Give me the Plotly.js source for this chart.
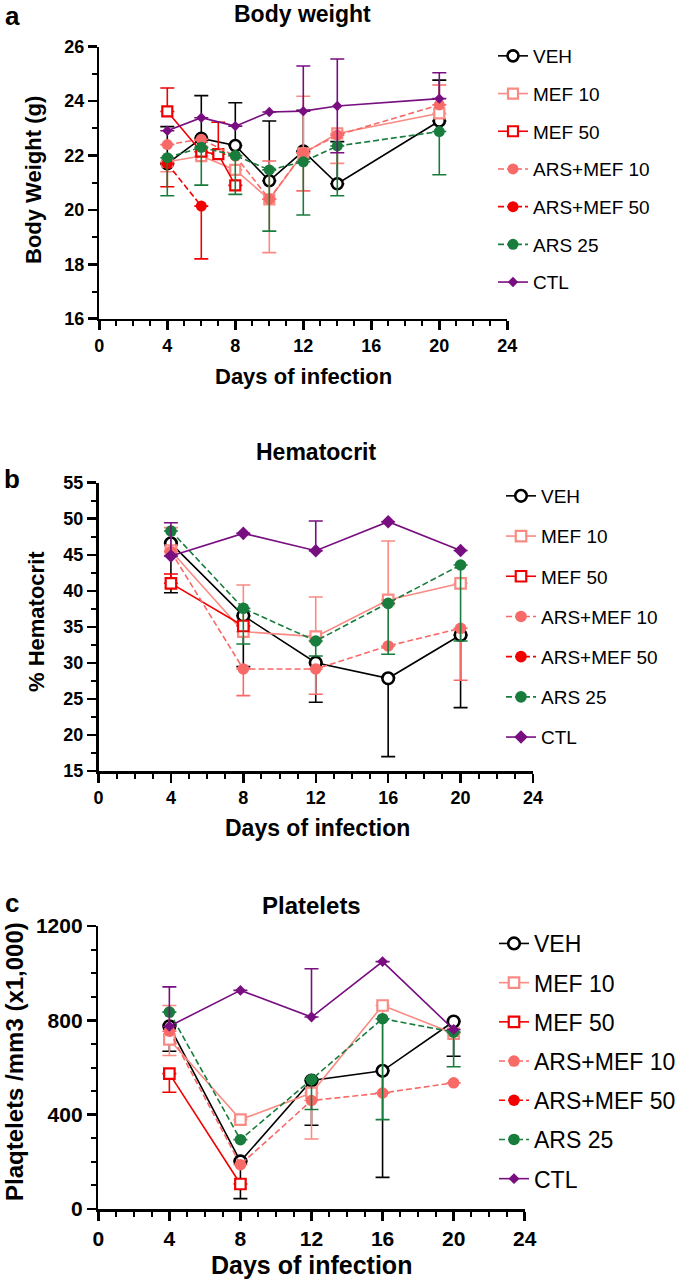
<!DOCTYPE html>
<html><head><meta charset="utf-8">
<script src="https://cdn.plot.ly/plotly-3.0.1.min.js"></script>
<style>html,body{margin:0;padding:0;background:#fff}#chart{width:685px;height:1285px}</style>
</head><body><div id="chart"></div>
<script>
// ---------- DATA ----------
const seriesNames = ['VEH','MEF 10','MEF 50','ARS+MEF 10','ARS+MEF 50','ARS 25','CTL'];

// Panel a: Body weight (g)
const bwDays        = [4, 6, 8, 10, 12, 14, 20];
const bwDaysMEF50   = [4, 6, 7, 8];
const bwDaysARSMEF50= [4, 6];
const bwVEH      = [21.70, 22.63, 22.37, 21.07, 22.16, 20.96, 23.27];
const bwVEHUp    = [1.36, 1.57, 1.57, 2.20, 1.50, 1.55, 1.50];
const bwVEHLo    = [0, 0, 0, 0, 0, 0, 0];
const bwMEF10    = [21.77, 21.98, 21.47, 20.39, 22.08, 22.81, 23.55];
const bwMEF10Up  = [0, 0, 0, 0, 2.10, 0, 0];
const bwMEF10Lo  = [0.37, 0, 0, 1.96, 0, 1.10, 0];
const bwMEF50    = [23.62, 22.14, 22.05, 20.90];
const bwMEF50Up  = [0.86, 0, 1.17, 0];
const bwMEF50Lo  = [0, 0, 0, 0];
const bwAM10     = [22.40, 22.60, 21.98, 20.40, 22.10, 22.75, 23.86];
const bwAM10Up   = [0, 0, 0, 1.40, 0, 0, 0.73];
const bwAM10Lo   = [0, 0, 0, 0, 1.40, 0, 0];
const bwAM50     = [21.70, 20.14];
const bwAM50Up   = [0, 0];
const bwAM50Lo   = [0.85, 1.94];
const bwARS25    = [21.92, 22.30, 22.00, 21.47, 21.77, 22.35, 22.88];
const bwARS25Up  = [0, 0, 0, 0, 0, 0, 0];
const bwARS25Lo  = [1.40, 1.39, 1.43, 2.25, 1.96, 1.83, 1.59];
const bwCTL      = [22.91, 23.39, 23.08, 23.60, 23.63, 23.82, 24.09];
const bwCTLUp    = [0, 0, 0, 0, 1.66, 1.73, 0.95];
const bwCTLLo    = [0, 0, 0, 0, 0, 1.72, 0];

// Panel b: % Hematocrit
const hDays      = [4, 8, 12, 16, 20];
const hDaysMEF50 = [4, 8];
const hDaysAM50  = [4];          // no value shown for ARS+MEF 50
const hVEH       = [46.59, 36.55, 30.03, 27.86, 33.87];
const hVEHUp     = [0, 0, 0, 0, 0];
const hVEHLo     = [6.85, 7.07, 5.50, 10.86, 10.08];
const hMEF10     = [45.57, 34.33, 33.64, 38.73, 41.04];
const hMEF10Up   = [3.20, 6.48, 5.50, 8.18, 0];
const hMEF10Lo   = [0, 0, 0, 0, 0];
const hMEF50     = [41.04, 35.12];
const hMEF50Up   = [1.30, 0];
const hMEF50Lo   = [0, 0];
const hAM10      = [45.43, 29.16, 29.16, 32.35, 34.80];
const hAM10Up    = [0, 0, 0, 0, 0];
const hAM10Lo    = [0, 3.70, 3.52, 0, 7.20];
const hAM50      = [null];
const hARS25     = [48.30, 37.57, 33.04, 38.26, 43.58];
const hARS25Up   = [0, 0, 0, 0, 0];
const hARS25Lo   = [0, 4.95, 2.08, 7.06, 10.54];
const hCTL       = [44.83, 47.97, 45.57, 49.59, 45.60];
const hCTLUp     = [4.62, 0, 4.11, 0, 0];
const hCTLLo     = [0, 0, 0, 0, 0];

// Panel c: Platelets /mm3 (x1,000)
const pDays      = [4, 8, 12, 16, 20];
const pDaysMEF50 = [4, 8];
const pDaysAM50  = [4];          // no value shown for ARS+MEF 50
const pVEH       = [775, 202, 545, 586, 795];
const pVEHUp     = [0, 0, 0, 0, 0];
const pVEHLo     = [106, 158, 190, 452, 147];
const pMEF10     = [719, 379, 492, 863, 744];
const pMEF10Up   = [144, 0, 0, 0, 0];
const pMEF10Lo   = [68, 0, 195, 370, 0];
const pMEF50     = [574, 106];
const pMEF50Up   = [0, 0];
const pMEF50Lo   = [79, 0];
const pAM10      = [754, 188, 460, 492, 535];
const pAM10Up    = [0, 0, 0, 0, 0];
const pAM10Lo    = [0, 0, 0, 0, 0];
const pAM50      = [null];
const pARS25     = [835, 294, 549, 807, 750];
const pARS25Up   = [0, 0, 0, 0, 0];
const pARS25Lo   = [0, 0, 127, 428, 147];
const pCTL       = [775, 927, 814, 1049, 761];
const pCTLUp     = [167, 0, 205, 0, 0];
const pCTLLo     = [0, 0, 0, 0, 0];

// ---------- STYLES ----------
const FONT = 'Arial, "Liberation Sans", Helvetica, sans-serif';
const styles = {
  'VEH':        {color:'#000000', symbol:'circle', open:true,  dash:'solid', size:11, lw:2.6},
  'MEF 10':     {color:'#F98B84', symbol:'square', open:true,  dash:'solid', size:10, lw:2.2},
  'MEF 50':     {color:'#F00000', symbol:'square', open:true,  dash:'solid', size:10, lw:2.2},
  'ARS+MEF 10': {color:'#F86A68', symbol:'circle', open:false, dash:'6px,3px', size:11, lw:0},
  'ARS+MEF 50': {color:'#F20000', symbol:'circle', open:false, dash:'6px,3px', size:11, lw:0},
  'ARS 25':     {color:'#187C3C', symbol:'circle', open:false, dash:'6px,3px', size:11, lw:0},
  'CTL':        {color:'#780E80', symbol:'diamond', open:false, dash:'solid', size:8, lw:0}
};

function mk(name, x, y, up, lo, xa, ya, leg, sizeScale) {
  const s = styles[name];
  return {
    type:'scatter', mode:'lines+markers', name:name, x:x, y:y,
    xaxis:xa, yaxis:ya, legend:leg, legendgroup:name + leg,
    line:{color:s.color, width:1.6, dash:s.dash},
    marker:{symbol:s.symbol, size:s.size*sizeScale, color:s.open ? '#ffffff' : s.color,
            line:{color:s.color, width:s.lw}},
    error_y:{type:'data', symmetric:false, array:up || [], arrayminus:lo || [],
             color:s.color, thickness:1.6, width:7, visible:true},
    cliponaxis:false, hoverinfo:'x+y+name'
  };
}

const data = [
  mk('VEH', bwDays, bwVEH, bwVEHUp, bwVEHLo, 'x', 'y', 'legend', 1),
  mk('MEF 10', bwDays, bwMEF10, bwMEF10Up, bwMEF10Lo, 'x', 'y', 'legend', 1),
  mk('MEF 50', bwDaysMEF50, bwMEF50, bwMEF50Up, bwMEF50Lo, 'x', 'y', 'legend', 1),
  mk('ARS+MEF 10', bwDays, bwAM10, bwAM10Up, bwAM10Lo, 'x', 'y', 'legend', 1),
  mk('ARS+MEF 50', bwDaysARSMEF50, bwAM50, bwAM50Up, bwAM50Lo, 'x', 'y', 'legend', 1),
  mk('ARS 25', bwDays, bwARS25, bwARS25Up, bwARS25Lo, 'x', 'y', 'legend', 1),
  mk('CTL', bwDays, bwCTL, bwCTLUp, bwCTLLo, 'x', 'y', 'legend', 1),

  mk('VEH', hDays, hVEH, hVEHUp, hVEHLo, 'x2', 'y2', 'legend2', 1.05),
  mk('MEF 10', hDays, hMEF10, hMEF10Up, hMEF10Lo, 'x2', 'y2', 'legend2', 1.05),
  mk('MEF 50', hDaysMEF50, hMEF50, hMEF50Up, hMEF50Lo, 'x2', 'y2', 'legend2', 1.05),
  mk('ARS+MEF 10', hDays, hAM10, hAM10Up, hAM10Lo, 'x2', 'y2', 'legend2', 1.05),
  mk('ARS+MEF 50', hDaysAM50, hAM50, [], [], 'x2', 'y2', 'legend2', 1.05),
  mk('ARS 25', hDays, hARS25, hARS25Up, hARS25Lo, 'x2', 'y2', 'legend2', 1.05),
  mk('CTL', hDays, hCTL, hCTLUp, hCTLLo, 'x2', 'y2', 'legend2', 1.3),

  mk('VEH', pDays, pVEH, pVEHUp, pVEHLo, 'x3', 'y3', 'legend3', 1.05),
  mk('MEF 10', pDays, pMEF10, pMEF10Up, pMEF10Lo, 'x3', 'y3', 'legend3', 1.05),
  mk('MEF 50', pDaysMEF50, pMEF50, pMEF50Up, pMEF50Lo, 'x3', 'y3', 'legend3', 1.05),
  mk('ARS+MEF 10', pDays, pAM10, pAM10Up, pAM10Lo, 'x3', 'y3', 'legend3', 1.05),
  mk('ARS+MEF 50', pDaysAM50, pAM50, [], [], 'x3', 'y3', 'legend3', 1.05),
  mk('ARS 25', pDays, pARS25, pARS25Up, pARS25Lo, 'x3', 'y3', 'legend3', 1.05),
  mk('CTL', pDays, pCTL, pCTLUp, pCTLLo, 'x3', 'y3', 'legend3', 1.05)
];

// ---------- LAYOUT ----------
const W = 685, H = 1285;
const px = v => v / W;
const py = v => 1 - v / H;

function xAxis(d0, d1, anchor, fs) {
  return {domain:[px(d0), px(d1)], anchor:anchor, range:[0, 24], tickvals:[0,4,8,12,16,20,24],
    showline:true, linecolor:'#000', linewidth:2.5, ticks:'outside', ticklen:9, tickwidth:2.5,
    tickcolor:'#000', minor:{dtick:1, ticks:'outside', ticklen:5, tickwidth:2, tickcolor:'#000'},
    showgrid:false, zeroline:false, fixedrange:true,
    tickfont:{family:FONT, size:fs, color:'#000', weight:'bold'}};
}
function yAxis(t0, t1, anchor, range, dtick, minorD, fs) {
  return {domain:[py(t1), py(t0)], anchor:anchor, range:range, dtick:dtick, tick0:range[0],
    showline:true, linecolor:'#000', linewidth:2.5, ticks:'outside', ticklen:9, tickwidth:2.5,
    tickcolor:'#000', minor:{dtick:minorD, ticks:'outside', ticklen:5, tickwidth:2, tickcolor:'#000'},
    showgrid:false, zeroline:false, fixedrange:true,
    tickfont:{family:FONT, size:fs, color:'#000', weight:'bold'}};
}
function legendAt(left, top, fs, gap) {
  return {x:px(left), y:py(top), xanchor:'left', yanchor:'top', bgcolor:'rgba(0,0,0,0)',
    font:{family:FONT, size:fs, color:'#000'}, tracegroupgap:gap, traceorder:'grouped',
    itemclick:false, itemdoubleclick:false};
}
function ann(text, x, y, size, opts) {
  return Object.assign({text:text, x:px(x), y:py(y), xref:'paper', yref:'paper',
    xanchor:'center', yanchor:'middle', showarrow:false,
    font:{family:FONT, size:size, color:'#000', weight:'bold'}}, opts || {});
}

const layout = {
  width:W, height:H, margin:{l:0, r:0, t:0, b:0},
  paper_bgcolor:'#fff', plot_bgcolor:'#fff', showlegend:true,
  xaxis:  xAxis(99.3, 507.3, 'y', 18),
  yaxis:  yAxis(46.7, 318.7, 'x', [16, 26], 2, 1, 18),
  xaxis2: xAxis(98.5, 533, 'y2', 18),
  yaxis2: yAxis(482.7, 771, 'x2', [15, 55], 5, 2.5, 18),
  xaxis3: xAxis(98.3, 524.7, 'y3', 21),
  yaxis3: yAxis(926, 1209, 'x3', [0, 1200], 400, 100, 21),
  legend:  legendAt(493, 37, 19, 10),
  legend2: legendAt(501, 477, 19, 12.5),
  legend3: legendAt(494, 922, 23, 6.3),
  annotations:[
    ann('a', 12, 16, 26),
    ann('Body weight', 302, 14, 23),
    ann('Body Weight (g)', 34, 180, 22, {textangle:-90}),
    ann('Days of infection', 303, 376, 22),
    ann('b', 12, 479, 26),
    ann('Hematocrit', 316, 452, 23),
    ann('% Hematocrit', 36, 622, 22, {textangle:-90}),
    ann('Days of infection', 317, 828, 23),
    ann('c', 12, 903, 26),
    ann('Platelets', 311, 905, 24),
    ann('Plaqtelets /mm3 (x1,000)', 14, 1062, 24, {textangle:-90}),
    ann('Days of infection', 311, 1265, 25)
  ]
};

Plotly.newPlot('chart', data, layout, {displayModeBar:false, staticPlot:true});
</script>
</body></html>
